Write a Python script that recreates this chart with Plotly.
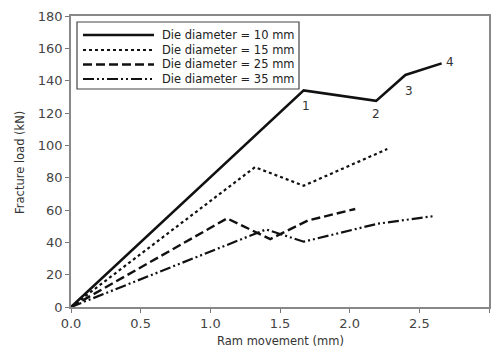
import plotly.graph_objects as go

names = ["Die diameter = 10 mm", "Die diameter = 15 mm",
         "Die diameter = 25 mm", "Die diameter = 35 mm"]
x10 = [0.0, 1.67, 2.19, 2.40, 2.66]
y10 = [0.0, 134.0, 127.5, 143.5, 150.7]
x15 = [0.0, 1.32, 1.67, 2.27]
y15 = [0.0, 86.5, 75.0, 97.7]
x25 = [0.0, 1.12, 1.43, 1.70, 2.04]
y25 = [0.0, 54.8, 42.0, 53.5, 60.6]
x35 = [0.0, 1.40, 1.67, 2.20, 2.61]
y35 = [0.0, 48.0, 40.4, 51.5, 56.3]
pt_labels = ["1", "2", "3", "4"]
pt_x = [1.67, 2.19, 2.40, 2.66]
pt_y = [134.0, 127.5, 143.5, 150.7]
xticks = [0, 0.5, 1.0, 1.5, 2.0, 2.5, 3.0]
xticktext = ["0.0", "0.5", "1.0", "1.5", "2.0", "2.5", "3.0"]
yticks = [0, 20, 40, 60, 80, 100, 120, 140, 160, 180]

xs = [x10, x15, x25, x35]
ys = [y10, y15, y25, y35]
dashes = ["solid", "dot", "9px,4px", "11px,3px,2px,3px,2px,3px"]
widths = [2.6, 2.2, 2.4, 2.2]

FONT = "DejaVu Sans"
OFF = 8  # page body margin
W, H = 500 - 2 * OFF, 350 - OFF
# plot box in page pixels: left 71, right 489, top 16, bottom 307
ML, MT = 71 - OFF, 16 - OFF
MR, MB = W - (489 - OFF), H - (307 - OFF)
PW, PH = W - ML - MR, H - MT - MB


def px_x(p):
    return (p - OFF - ML) / PW


def px_y(p):
    return (H - MB - (p - OFF)) / PH


fig = go.Figure()
for n, x, y, d, w in zip(names, xs, ys, dashes, widths):
    fig.add_trace(go.Scatter(x=x, y=y, mode="lines", name=n, showlegend=False,
                             line=dict(color="#111111", width=w, dash=d)))

shifts = [(2, -16), (0, -13), (4, -16), (8, 1)]
for t, x, y, (dx, dy) in zip(pt_labels, pt_x, pt_y, shifts):
    fig.add_annotation(x=x, y=y, text=t, showarrow=False, xshift=dx, yshift=dy,
                       font=dict(family=FONT, size=12, color="#333333"))

# custom legend (compact rows, long line samples)
fig.add_shape(type="rect", xref="paper", yref="paper",
              x0=px_x(77), x1=px_x(299), y0=px_y(89), y1=px_y(22),
              line=dict(color="#444444", width=1.2), fillcolor="white", layer="above")
rows = [35, 50, 64.5, 79]
for n, d, w, r in zip(names, dashes, widths, rows):
    fig.add_shape(type="line", xref="paper", yref="paper",
                  x0=px_x(83), x1=px_x(154), y0=px_y(r), y1=px_y(r),
                  line=dict(color="#111111", width=w, dash=d), layer="above")
    fig.add_annotation(xref="paper", yref="paper", x=px_x(160), y=px_y(r),
                       xanchor="left", yanchor="middle", text=n, showarrow=False,
                       font=dict(family=FONT, size=11.5, color="#222222"))

# axis titles
fig.add_annotation(xref="paper", yref="paper", x=px_x(280), y=px_y(340.5),
                   xanchor="center", yanchor="middle", text="Ram movement (mm)",
                   showarrow=False, font=dict(family=FONT, size=11.5, color="#333333"))
fig.add_annotation(xref="paper", yref="paper", x=px_x(20), y=px_y(163),
                   xanchor="center", yanchor="middle", text="Fracture load (kN)",
                   textangle=-90, showarrow=False,
                   font=dict(family=FONT, size=11.5, color="#333333"))

fig.update_layout(
    width=W, height=H,
    margin=dict(l=ML, r=MR, t=MT, b=MB),
    paper_bgcolor="white", plot_bgcolor="white",
    font=dict(family=FONT, color="#333333"),
    showlegend=False,
    xaxis=dict(range=[0, 3.0], tickvals=xticks, ticktext=xticktext,
               ticks="outside", ticklen=4, tickcolor="#777777",
               showline=True, linecolor="#888888", linewidth=1.5, mirror=True,
               showgrid=False, zeroline=False, automargin=False,
               tickfont=dict(family=FONT, size=13, color="#444444")),
    yaxis=dict(range=[0, 180], tickvals=yticks,
               ticks="outside", ticklen=4, tickcolor="#777777",
               showline=True, linecolor="#888888", linewidth=1.5, mirror=True,
               showgrid=False, zeroline=False, automargin=False,
               tickfont=dict(family=FONT, size=13, color="#444444")),
)
fig.write_html("out.html")
